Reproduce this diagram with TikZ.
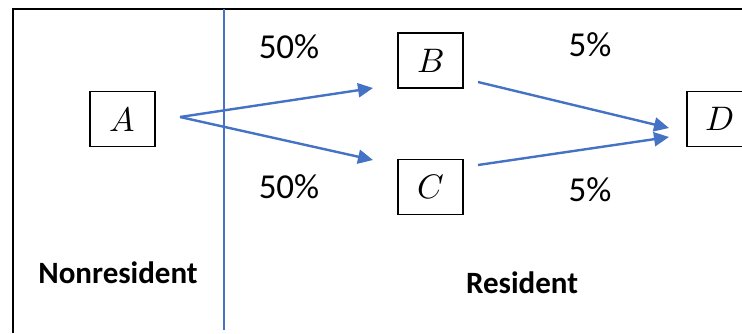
\documentclass[tikz,border=0pt]{standalone}
\usepackage{fontspec}
\usepackage{unicode-math}
\setmainfont{Carlito}
\usetikzlibrary{arrows.meta}
\definecolor{flowblue}{RGB}{68,114,196}
\begin{document}
\begin{tikzpicture}[x=1pt, y=-1pt,
    box/.style={draw, line width=1.5pt, minimum width=65pt, minimum height=55pt,
        inner sep=0pt, font=\fontsize{34}{38}\selectfont},
    flow/.style={draw=flowblue, line width=2.4pt,
        -{Triangle[length=15pt, width=14pt]}},
    pct/.style={font=\fontsize{35}{40}\selectfont},
    side/.style={font=\fontsize{31}{36}\selectfont\bfseries}]

	\useasboundingbox (0,0) rectangle (742,333);

	% frame and divider
	\draw[line width=1.6pt] (742,9) -- (13,9) -- (13,333);
	\draw[flowblue, line width=1.6pt] (224,9) -- (224,330);

	\node[box] (A) at (122.5,119) {$A$};
	\node[box] (B) at (430.5,60.5) {$B$};
	\node[box] (C) at (430.5,187) {$C$};
	\node[box] (D) at (719.5,119) {$D$};

	\coordinate (aout) at (180,117);
	\coordinate (bin) at (373,88);
	\coordinate (cin) at (373,160);
	\coordinate (bout) at (478,82);
	\coordinate (cout) at (478,165);
	\coordinate (din1) at (669,128);
	\coordinate (din2) at (669,137);

	\draw[flow] (aout) -- (bin);
	\draw[flow] (aout) -- (cin);
	\draw[flow] (bout) -- (din1);
	\draw[flow] (cout) -- (din2);

	\node[pct] (pab) at (289,47) {50\%};
	\node[pct] (pac) at (289,187) {50\%};
	\node[pct] (pbd) at (590,45) {5\%};
	\node[pct] (pcd) at (590,190) {5\%};

	\node[side] (nonres) at (118,273) {Nonresident};
	\node[side] (res) at (522,283) {Resident};
\end{tikzpicture}
\end{document}
